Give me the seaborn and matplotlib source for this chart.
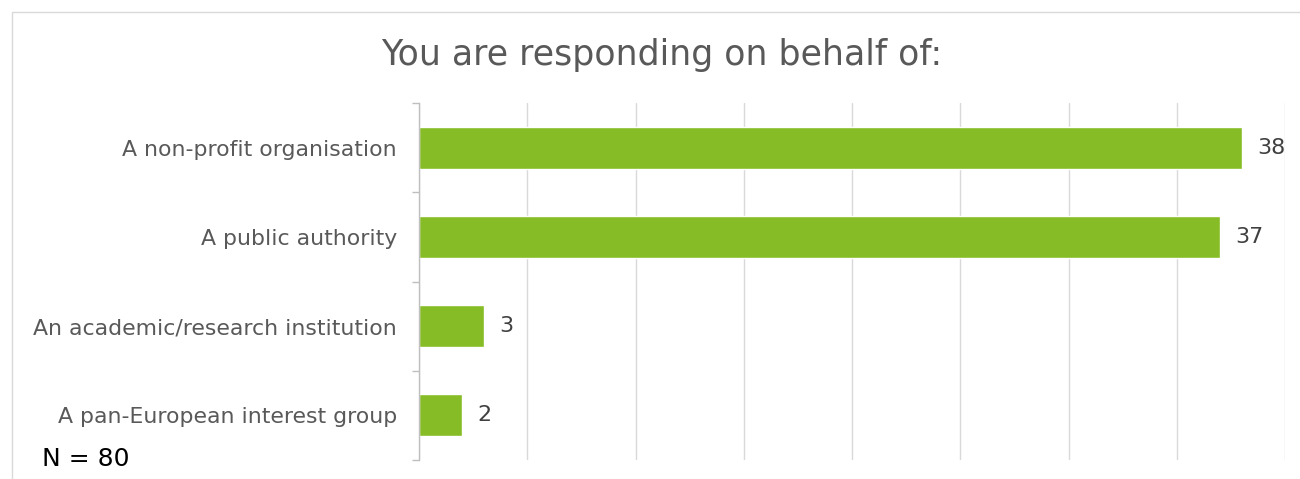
import numpy as np
import pandas as pd
import seaborn as sns
import matplotlib.pyplot as plt
from matplotlib.patches import Rectangle

categories = ['A non-profit organisation', 'A public authority',
              'An academic/research institution', 'A pan-European interest group']
counts = [38, 37, 3, 2]
x_ticks = [0, 5, 10, 15, 20, 25, 30, 35, 40]

df = pd.DataFrame({'category': categories, 'count': counts})

sns.set_theme(style='white')
plt.rcParams['font.family'] = ['DejaVu Sans']

fig = plt.figure(figsize=(13, 4.79), dpi=100)
ax = fig.add_axes([419 / 1300, 1 - 460 / 479, (1285 - 419) / 1300, (460 - 103) / 479])

sns.barplot(data=df, x='count', y='category', orient='h', color='#86BC25',
            width=0.47, saturation=1, ax=ax)

ax.set_xlim(0, 40)
ax.set_ylim(3.5, -0.5)
ax.set_xticks(x_ticks)
ax.set_xticklabels([])
ax.tick_params(axis='x', length=0)
ax.grid(axis='x', color='#D9D9D9', linewidth=1)
ax.set_axisbelow(True)
ax.set_xlabel('')
ax.set_ylabel('')

for side in ['top', 'right', 'bottom']:
    ax.spines[side].set_visible(False)
ax.spines['left'].set_color('#BFBFBF')
ax.spines['left'].set_linewidth(1)

# category separators on the y axis
ax.set_yticks(np.arange(-0.5, 4, 1), minor=True)
ax.tick_params(axis='y', which='minor', length=5, color='#BFBFBF', width=1, left=True)
ax.tick_params(axis='y', which='major', length=0, pad=16, labelsize=15.8, labelcolor='#595959')

ax.bar_label(ax.containers[0], padding=11, fontsize=16, color='#404040')

fig.text(0.509, 0.885, 'You are responding on behalf of:', ha='center', va='center',
         fontsize=25, color='#595959')
fig.text(42 / 1300, 1 - 459 / 479, 'N = 80', ha='left', va='center',
         fontsize=18, color='black')

# outer frame
fig.patches.append(Rectangle((12 / 1300, -0.2), 1.2, 0.975 + 0.2, transform=fig.transFigure,
                             fill=False, edgecolor='#D9D9D9', linewidth=1))

fig.savefig('out.png', dpi=100)
